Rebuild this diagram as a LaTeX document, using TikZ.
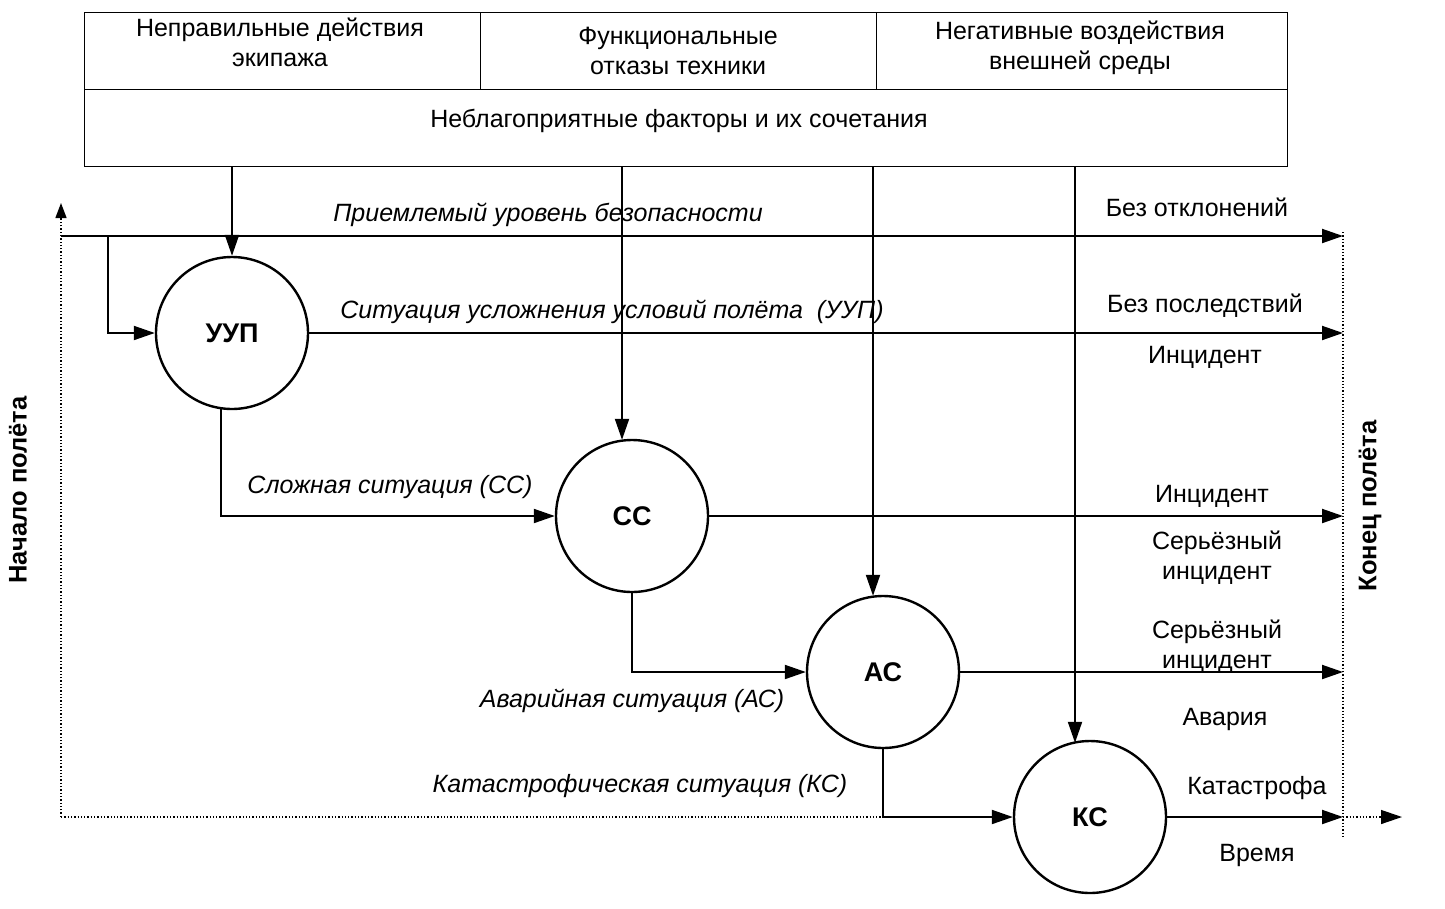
\documentclass[tikz,border=0pt]{standalone}
\usepackage{fontspec}
\setmainfont{Liberation Sans}
\usetikzlibrary{arrows.meta,calc}
\tikzset{
  cell/.style={draw, line width=1.4pt, minimum height=77pt, inner sep=0pt, align=center},
  state/.style={draw, circle, line width=2.4pt, minimum size=152pt, inner sep=0pt, font=\fontsize{27}{30}\selectfont\bfseries},
  arr/.style={line width=2pt, -{Triangle[length=21pt,width=14pt]}},
  dotline/.style={line width=1.3pt, dotted},
  lbl/.style={font=\fontsize{25}{30}\selectfont, align=center, inner sep=0pt},
  ilbl/.style={font=\fontsize{25}{30}\selectfont\itshape, inner sep=0pt},
  vlbl/.style={font=\fontsize{25.5}{30}\selectfont\bfseries, rotate=90, inner sep=0pt}
}
\begin{document}
\begin{tikzpicture}[x=1pt,y=-1pt]
\useasboundingbox (0,0) rectangle (1445,908);
% top box
\node[cell, minimum width=396pt, anchor=north west] (c1) at (84,12) {};
\node[cell, minimum width=396pt, anchor=north west] (c2) at (480,12) {};
\node[cell, minimum width=411pt, anchor=north west] (c3) at (876,12) {};
\node[cell, minimum width=1203pt, anchor=north west] (c4) at (84,89) {};
\node[lbl] (t1) at (280,42) {Неправильные действия\\экипажа};
\node[lbl] (t2) at (678,51) {Функциональные\\отказы техники};
\node[lbl] (t3) at (1080,48) {Негативные воздействия\\внешней среды};
\node[lbl] (t4) at (679,121) {Неблагоприятные факторы и их сочетания};

% states
\node[state] (uup) at (232,333) {УУП};
\node[state] (cc) at (632,516) {СС};
\node[state] (ac) at (883,672) {АС};
\node[state] (kc) at (1090,817) {КС};

% axes coordinates
\coordinate (orig) at (61,817);
\coordinate (otop) at (61,203);
\coordinate (start) at (61,236);
\coordinate (br) at (108,236);
\coordinate (ftop) at (1343,232);
\coordinate (fbot) at (1343,838);
\coordinate (tend) at (1402,817);
\coordinate (corner) at (ac.south |- kc.west);

% dotted frame
\draw[dotline, -{Triangle[length=15pt,width=11pt]}] (orig) -- (otop);
\draw[dotline] (orig) -- (corner);
\draw[dotline] (ftop) -- (fbot);

% factor arrows
\coordinate (f1) at (232,166);
\coordinate (f2) at (622,166);
\coordinate (f3) at (873,166);
\coordinate (f4) at (1075,166);
\draw[arr] (f1) -- (uup.north);
\draw[arr] (f2) -- ($(f2 |- cc.north)+(0,1)$);
\draw[arr] (f3) -- ($(f3 |- ac.north)+(0,1)$);
\draw[arr] (f4) -- ($(f4 |- kc.north)+(0,3)$);

% flow lines
\draw[arr] (start) -- (start -| ftop);
\draw[arr] (br) |- (uup.west);
\draw[arr] (uup.east) -- (uup.east -| ftop);
\draw[arr] (uup.262) |- (cc.west);
\draw[arr] (cc.east) -- (cc.east -| ftop);
\draw[arr] (cc.south) |- (ac.west);
\draw[arr] (ac.east) -- (ac.east -| ftop);
\draw[arr] (ac.south) |- (kc.west);
\draw[arr] (kc.east) -- (kc.east -| ftop);
\draw[dotline, -{Triangle[length=21pt,width=14pt]}] (kc.east -| ftop) -- (tend);

% italic labels
\node[ilbl] (l1) at (548,215) {Приемлемый уровень безопасности};
\node[ilbl] (l2) at (612,312) {Ситуация усложнения условий полёта\ \ (УУП)};
\node[ilbl] (l3) at (390,487) {Сложная ситуация (СС)};
\node[ilbl] (l4) at (632,701) {Аварийная ситуация (АС)};
\node[ilbl] (l5) at (640,786) {Катастрофическая ситуация (КС)};

% outcome labels
\node[lbl] (o1) at (1197,207) {Без отклонений};
\node[lbl] (o2) at (1205,306) {Без последствий};
\node[lbl] (o3) at (1205,357) {Инцидент};
\node[lbl] (o4) at (1212,496) {Инцидент};
\node[lbl] (o5) at (1217,558) {Серьёзный\\инцидент};
\node[lbl] (o6) at (1217,647) {Серьёзный\\инцидент};
\node[lbl] (o7) at (1225,719) {Авария};
\node[lbl] (o8) at (1257,788) {Катастрофа};
\node[lbl] (o9) at (1257,855) {Время};

% vertical labels
\node[vlbl] (v1) at (18,490) {Начало полёта};
\node[vlbl] (v2) at (1370,506) {Конец полёта};
\end{tikzpicture}
\end{document}
